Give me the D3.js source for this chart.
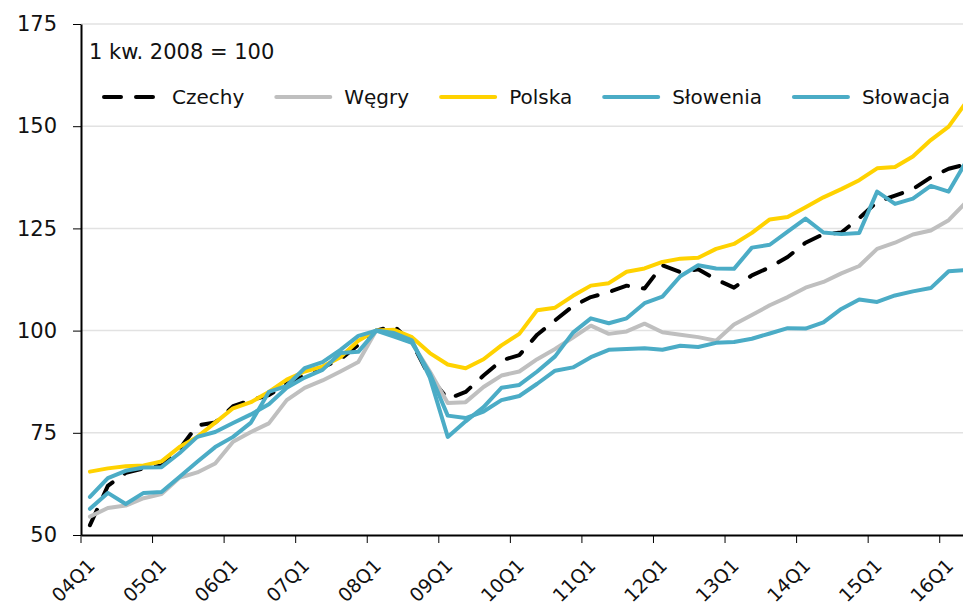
<!DOCTYPE html>
<html>
<head>
<meta charset="utf-8">
<script src="https://cdn.jsdelivr.net/npm/d3@7"></script>
<style>
  body { margin: 0; background: #fff; }
  text { font-family: "DejaVu Sans", sans-serif; fill: #111; }
</style>
</head>
<body>
<div id="plot"></div>
<script>
// Categories (quarters) and tick labels
const quarters = [
  "04Q1","04Q2","04Q3","04Q4","05Q1","05Q2","05Q3","05Q4","06Q1","06Q2","06Q3","06Q4",
  "07Q1","07Q2","07Q3","07Q4","08Q1","08Q2","08Q3","08Q4","09Q1","09Q2","09Q3","09Q4",
  "10Q1","10Q2","10Q3","10Q4","11Q1","11Q2","11Q3","11Q4","12Q1","12Q2","12Q3","12Q4",
  "13Q1","13Q2","13Q3","13Q4","14Q1","14Q2","14Q3","14Q4","15Q1","15Q2","15Q3","15Q4",
  "16Q1","16Q2"
];
const tickLabels = ["04Q1","05Q1","06Q1","07Q1","08Q1","09Q1","10Q1","11Q1","12Q1","13Q1","14Q1","15Q1","16Q1"];
const yTicks = [50, 75, 100, 125, 150, 175];

// Series values (1 kw. 2008 = 100)
const czechy = [52.4, 62.0, 65.2, 66.3, 67.0, 71.0, 76.8, 77.5, 81.5, 83.0, 84.2, 87.0, 89.0, 91.0, 93.0, 96.5, 100.0, 101.1, 97.0, 88.6, 83.3, 85.0, 89.0, 92.7, 94.0, 99.0, 102.5, 106.0, 108.2, 109.4, 111.0, 110.3, 116.0, 114.3, 115.0, 112.5, 110.5, 113.5, 115.5, 118.0, 121.5, 123.6, 124.0, 127.5, 131.5, 133.0, 134.6, 137.5, 139.6, 140.7];
const wegry = [54.5, 56.6, 57.2, 59.0, 60.0, 64.0, 65.3, 67.5, 72.8, 75.2, 77.3, 83.0, 86.0, 87.8, 90.0, 92.3, 100.0, 99.4, 97.0, 90.0, 82.3, 82.5, 86.2, 89.0, 90.0, 93.0, 95.5, 98.3, 101.2, 99.2, 99.8, 101.7, 99.6, 99.0, 98.4, 97.5, 101.5, 103.8, 106.2, 108.2, 110.5, 111.9, 114.0, 115.8, 120.0, 121.5, 123.5, 124.5, 127.0, 131.5];
const polska = [65.5, 66.3, 66.8, 67.0, 68.0, 71.5, 74.0, 77.5, 81.0, 82.5, 85.0, 88.0, 90.0, 91.2, 93.5, 97.5, 100.0, 100.2, 98.4, 94.5, 91.7, 90.8, 93.0, 96.4, 99.2, 105.0, 105.6, 108.5, 111.0, 111.6, 114.4, 115.2, 116.8, 117.6, 117.8, 120.0, 121.2, 123.9, 127.2, 127.8, 130.2, 132.6, 134.6, 136.8, 139.7, 140.0, 142.6, 146.6, 149.9, 156.0];
const slowenia = [59.3, 63.9, 65.7, 66.5, 66.6, 70.0, 74.0, 75.2, 77.4, 79.5, 82.0, 86.0, 88.5, 90.4, 94.5, 94.8, 100.0, 98.5, 97.0, 89.5, 79.2, 78.6, 80.2, 83.0, 84.0, 87.0, 90.2, 91.0, 93.5, 95.3, 95.5, 95.7, 95.3, 96.3, 96.0, 97.0, 97.2, 98.0, 99.3, 100.6, 100.5, 102.0, 105.3, 107.6, 107.0, 108.6, 109.6, 110.4, 114.5, 114.8];
const slowacja = [56.4, 60.3, 57.6, 60.3, 60.5, 64.2, 67.9, 71.5, 74.0, 77.5, 85.0, 86.5, 90.8, 92.3, 95.3, 98.7, 100.0, 99.4, 97.6, 88.5, 74.0, 77.8, 81.3, 86.0, 86.7, 90.0, 93.7, 99.5, 103.0, 101.8, 103.0, 106.7, 108.3, 113.3, 116.0, 115.2, 115.1, 120.3, 121.0, 124.2, 127.4, 124.0, 123.6, 123.9, 134.0, 131.0, 132.3, 135.4, 134.0, 141.5];

const series = [
  { name: "Czechy", values: czechy, color: "#000000", dash: "17,15" },
  { name: "Węgry", values: wegry, color: "#bfbfbf", dash: null },
  { name: "Polska", values: polska, color: "#ffd200", dash: null },
  { name: "Słowenia", values: slowenia, color: "#4bacc6", dash: null },
  { name: "Słowacja", values: slowacja, color: "#4bacc6", dash: null }
];

const width = 963, height = 606;
const plot = { left: 81, top: 24, bottom: 535, step: 17.89 };

const svg = d3.select("#plot")
  .append("svg")
    .attr("width", width)
    .attr("height", height);

// Scales
const x = d3.scaleBand()
  .domain(quarters)
  .range([plot.left, plot.left + quarters.length * plot.step])
  .padding(0);
const y = d3.scaleLinear()
  .domain([50, 175])
  .range([plot.bottom, plot.top]);

// Gridlines
svg.append("g")
  .selectAll("line")
  .data(yTicks.slice(1))
  .join("line")
    .attr("x1", plot.left)
    .attr("x2", width)
    .attr("y1", d => y(d))
    .attr("y2", d => y(d))
    .attr("stroke", "#e2e2e2")
    .attr("stroke-width", 1.5);

// Y axis
const yAxis = svg.append("g")
  .attr("transform", `translate(${plot.left},0)`)
  .call(d3.axisLeft(y).tickValues(yTicks).tickSize(8).tickSizeOuter(0).tickPadding(16));
yAxis.select(".domain").attr("stroke", "#000").attr("stroke-width", 2);
yAxis.selectAll(".tick line").attr("stroke", "#000");
yAxis.selectAll("text")
  .style("font-size", "21px")
  .style("font-family", "DejaVu Sans, sans-serif")
  .attr("fill", "#111");

// X axis
const xAxis = svg.append("g")
  .attr("transform", `translate(0,${plot.bottom})`)
  .call(d3.axisBottom(x).tickValues(tickLabels).tickSize(8).tickSizeOuter(0));
xAxis.select(".domain").attr("stroke", "#000").attr("stroke-width", 2);
xAxis.selectAll(".tick line")
  .attr("stroke", "#000")
  .attr("x1", -x.bandwidth() / 2)
  .attr("x2", -x.bandwidth() / 2);
xAxis.selectAll("text")
  .attr("y", 0)
  .attr("dy", 0)
  .attr("transform", "translate(6,32) rotate(-45)")
  .style("text-anchor", "end")
  .style("font-size", "19px")
  .style("font-family", "DejaVu Sans, sans-serif")
  .attr("fill", "#111");

// Lines
const line = d3.line()
  .x((d, i) => x(quarters[i]) + x.bandwidth() / 2)
  .y(d => y(d));

svg.append("g")
  .selectAll("path")
  .data(series)
  .join("path")
    .attr("d", d => line(d.values))
    .attr("fill", "none")
    .attr("stroke", d => d.color)
    .attr("stroke-width", 4)
    .attr("stroke-linejoin", "round")
    .attr("stroke-linecap", "round")
    .attr("stroke-dasharray", d => d.dash);

// Note
svg.append("text")
  .attr("x", 89)
  .attr("y", 59)
  .style("font-size", "21px")
  .text("1 kw. 2008 = 100");

// Legend
let lx = 104;
series.forEach(s => {
  const g = svg.append("g").attr("transform", `translate(${lx},97)`);
  g.append("line")
    .attr("x1", 0)
    .attr("x2", 54)
    .attr("stroke", s.color)
    .attr("stroke-width", 4)
    .attr("stroke-linecap", "round")
    .attr("stroke-dasharray", s.dash);
  const t = g.append("text")
    .attr("x", 68)
    .attr("y", 7)
    .style("font-size", "20px")
    .text(s.name);
  lx += 68 + t.node().getComputedTextLength() + 32;
});
</script>
</body>
</html>
